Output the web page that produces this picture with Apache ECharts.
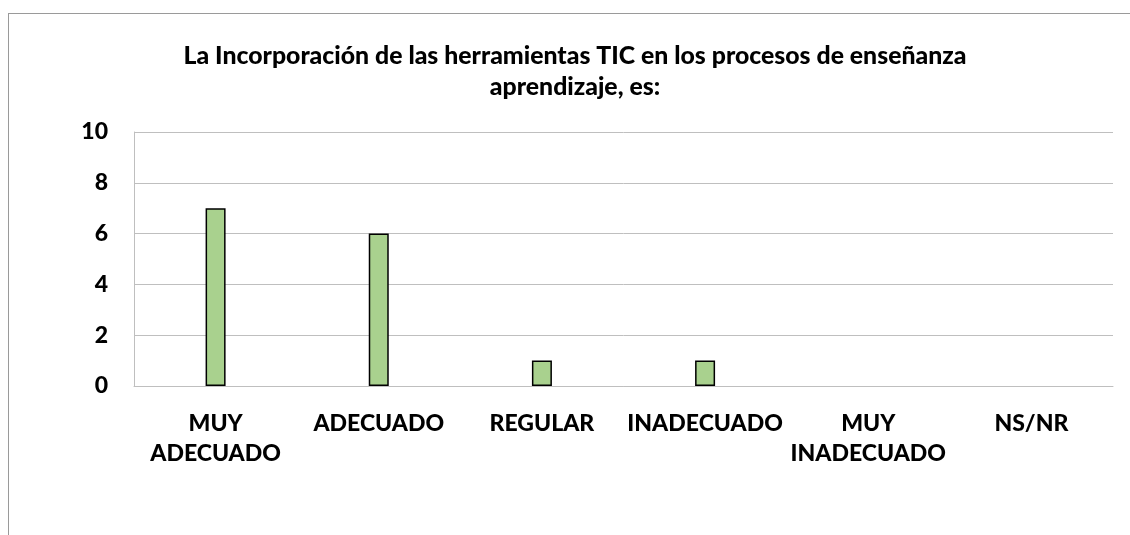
<!DOCTYPE html>
<html>
<head>
<meta charset="utf-8">
<script src="https://cdn.jsdelivr.net/npm/echarts@6/dist/echarts.min.js"></script>
<style>
html, body { margin: 0; padding: 0; background: #fff; }
#frame { position: absolute; left: 8px; top: 13px; width: 1122px; height: 522px; border-top: 1px solid #9a9a9a; border-left: 1px solid #9a9a9a; }
#chart { position: absolute; left: 0; top: 0; width: 1130px; height: 535px; }
</style>
</head>
<body>
<div id="frame"></div>
<div id="chart"></div>
<script>
var categories = ['MUY\nADECUADO', 'ADECUADO', 'REGULAR', 'INADECUADO', 'MUY\nINADECUADO', 'NS/NR'];
var values = [7, 6, 1, 1, 0, 0];
var yTicks = [0, 2, 4, 6, 8, 10];

var chart = echarts.init(document.getElementById('chart'));
var font = 'Lato, "Open Sans", sans-serif';

// zero bars are not drawn in the original (no outline either)
var barData = values.map(function (v) {
    return v === 0 ? { value: v, itemStyle: { borderWidth: 0 } } : v;
});

var option = {
    animation: false,
    title: {
        text: 'La Incorporación de las herramientas TIC en los procesos de enseñanza\naprendizaje, es:',
        left: 570,
        top: 36,
        textAlign: 'center',
        textStyle: {
            fontFamily: font,
            fontSize: 24.8,
            fontWeight: 900,
            color: '#000',
            lineHeight: 31
        }
    },
    grid: {
        left: 134,
        right: 17,
        top: 132,
        bottom: 149
    },
    xAxis: {
        type: 'category',
        data: categories,
        axisLine: { lineStyle: { color: '#bfbfbf' } },
        axisTick: { show: false },
        axisLabel: {
            interval: 0,
            margin: 23,
            fontFamily: font,
            fontSize: 23,
            fontWeight: 900,
            color: '#000',
            lineHeight: 30
        }
    },
    yAxis: {
        type: 'value',
        min: yTicks[0],
        max: yTicks[yTicks.length - 1],
        interval: 2,
        axisLine: { show: true, lineStyle: { color: '#bfbfbf' } },
        axisTick: { show: false },
        splitLine: { lineStyle: { color: '#bfbfbf' } },
        axisLabel: {
            margin: 26,
            fontFamily: font,
            fontSize: 23,
            fontWeight: 900,
            color: '#000'
        }
    },
    series: [{
        type: 'bar',
        data: barData,
        barWidth: 20,
        itemStyle: {
            color: '#a9d18e',
            borderColor: '#000',
            borderWidth: 1.5
        }
    }]
};
chart.setOption(option);
</script>
</body>
</html>
